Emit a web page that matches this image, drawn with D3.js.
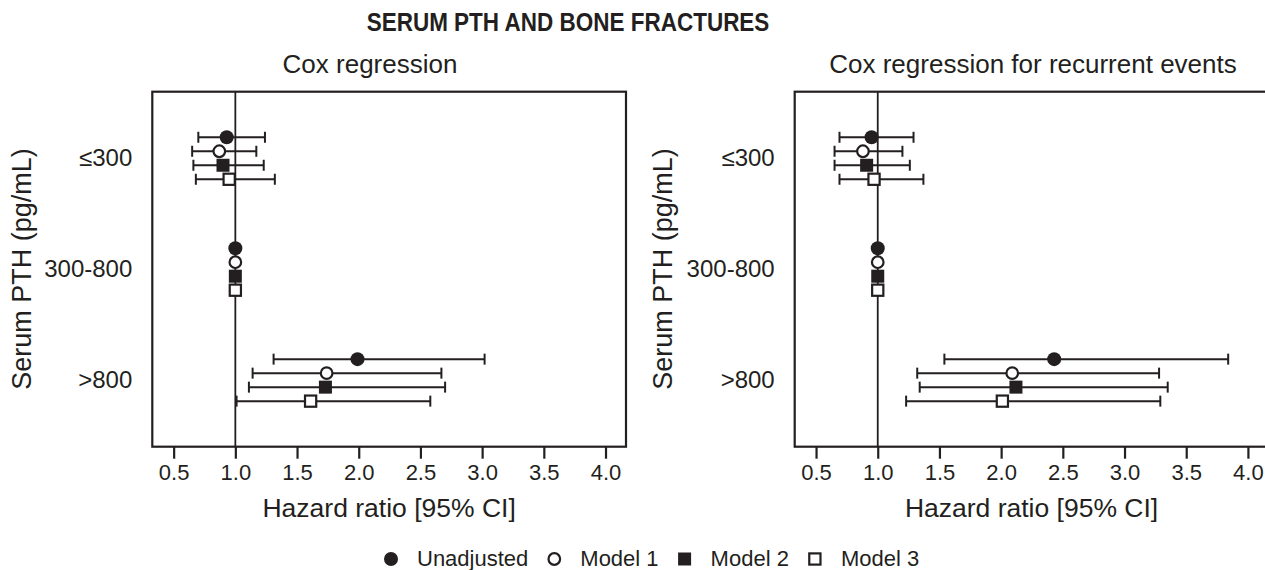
<!DOCTYPE html>
<html lang="en">
  <head>
    <meta charset="UTF-8" />
    <title>Serum PTH and bone fractures</title>
    <style>
      body { margin: 0; background: #fff; }
      svg text { font-family: "Liberation Sans", Arial, sans-serif; fill: #231f20; }
    </style>
  </head>
  <body>
    <script src="https://cdn.jsdelivr.net/npm/d3@7"></script>
    <script>

      var categories = ["≤300", "300-800", ">800"];
      var models = ["Unadjusted", "Model 1", "Model 2", "Model 3"];
      var xTicks = [0.5, 1.0, 1.5, 2.0, 2.5, 3.0, 3.5, 4.0];

      // hazard ratios, one row per model, one value per PTH category
      var coxHR   = [[0.93, 1.00, 1.99], [0.87, 1.00, 1.74], [0.90, 1.00, 1.73], [0.95, 1.00, 1.61]];
      var coxLow  = [[0.70, null, 1.31], [0.65, null, 1.14], [0.66, null, 1.11], [0.68, null, 1.01]];
      var coxHigh = [[1.24, null, 3.02], [1.17, null, 2.67], [1.23, null, 2.70], [1.32, null, 2.58]];

      var recHR   = [[0.95, 1.00, 2.43], [0.88, 1.00, 2.09], [0.91, 1.00, 2.12], [0.97, 1.00, 2.01]];
      var recLow  = [[0.69, null, 1.54], [0.65, null, 1.32], [0.65, null, 1.34], [0.69, null, 1.23]];
      var recHigh = [[1.29, null, 3.84], [1.20, null, 3.28], [1.26, null, 3.35], [1.37, null, 3.29]];

      var ink = "#231f20";
      var W = 1265, H = 570;

      var svg = d3.select("body").append("svg")
        .attr("width", W)
        .attr("height", H);

      // title is a bit taller than the plain font, stretch it
      svg.append("text")
         .attr("transform", "translate(568,31)scale(1,1.15)")
         .attr("text-anchor", "middle")
         .style("font-size", "22.5px")
         .style("font-weight", "bold")
         .text("SERUM PTH AND BONE FRACTURES");

      var plotTop = 91.7, plotBottom = 446.7, pw = 473.7;

      // marker drawing shared by the panels and the legend
      function marker(g, i, cx, cy) {
        if (i == 0) {
          g.append("circle").attr("cx", cx).attr("cy", cy).attr("r", 7).attr("fill", ink);
        } else if (i == 1) {
          g.append("circle").attr("cx", cx).attr("cy", cy).attr("r", 5.8)
           .attr("fill", "#fff").attr("stroke", ink).attr("stroke-width", 2.2);
        } else if (i == 2) {
          g.append("rect").attr("x", cx - 6.5).attr("y", cy - 6.5).attr("width", 13).attr("height", 13)
           .attr("fill", ink);
        } else {
          g.append("rect").attr("x", cx - 5.6).attr("y", cy - 5.6).attr("width", 11.2).attr("height", 11.2)
           .attr("fill", "#fff").attr("stroke", ink).attr("stroke-width", 2.2);
        }
      }

      function panel(left, title, titleX, hr, low, high, ylabX) {
        var g = svg.append("g");

        var xScale = d3.scaleLinear()
                       .domain([0.327, 4.166])
                       .range([left, left + pw]);

        var yScale = d3.scalePoint()
                       .domain(categories)
                       .range([plotTop, plotBottom])
                       .padding(0.6);

        var offset = d3.scalePoint()
                       .domain(models)
                       .range([-21, 21]);

        g.append("text")
         .attr("x", titleX)
         .attr("y", 73)
         .attr("text-anchor", "middle")
         .style("font-size", "26px")
         .text(title);

        // reference line at HR = 1
        g.append("line")
         .attr("x1", xScale(1)).attr("x2", xScale(1))
         .attr("y1", plotTop).attr("y2", plotBottom)
         .attr("stroke", ink)
         .attr("stroke-width", 1.8);

        // error bars and markers
        models.forEach(function(m, i) {
          categories.forEach(function(c, j) {
            var cy = yScale(c) + offset(m);
            if (low[i][j] != null) {
              g.append("line")
               .attr("x1", xScale(low[i][j])).attr("x2", xScale(high[i][j]))
               .attr("y1", cy).attr("y2", cy)
               .attr("stroke", ink).attr("stroke-width", 2);
              [low[i][j], high[i][j]].forEach(function(v) {
                g.append("line")
                 .attr("x1", xScale(v)).attr("x2", xScale(v))
                 .attr("y1", cy - 5.5).attr("y2", cy + 5.5)
                 .attr("stroke", ink).attr("stroke-width", 2);
              });
            }
            marker(g, i, xScale(hr[i][j]), cy);
          });
        });

        // frame
        g.append("rect")
         .attr("x", left).attr("y", plotTop)
         .attr("width", pw).attr("height", plotBottom - plotTop)
         .attr("fill", "none")
         .attr("stroke", ink)
         .attr("stroke-width", 2.2);

        //axes
        var xAxis = d3.axisBottom(xScale)
                      .tickValues(xTicks)
                      .tickFormat(d3.format(".1f"))
                      .tickSize(12)
                      .tickPadding(6);
        var xg = g.append("g")
                  .attr("transform", "translate(0," + plotBottom + ")")
                  .call(xAxis);
        xg.select(".domain").remove();
        xg.selectAll("line").attr("stroke", ink).attr("stroke-width", 2.2);
        xg.selectAll("text").style("font-size", "22px").attr("fill", ink);

        var yAxis = d3.axisLeft(yScale)
                      .tickSize(0)
                      .tickPadding(20);
        var yg = g.append("g")
                  .attr("transform", "translate(" + left + ",0)")
                  .call(yAxis);
        yg.select(".domain").remove();
        yg.selectAll("text").style("font-size", "24px").attr("fill", ink);

        g.append("text")
         .attr("text-anchor", "middle")
         .attr("x", left + pw / 2)
         .attr("y", 517)
         .style("font-size", "26.5px")
         .text("Hazard ratio [95% CI]");

        g.append("text")
         .attr("text-anchor", "middle")
         .attr("transform", "translate(" + ylabX + ",269)rotate(-90)")
         .style("font-size", "27px")
         .text("Serum PTH (pg/mL)");
      }

      panel(152.3, "Cox regression", 370, coxHR, coxLow, coxHigh, 31);
      panel(794.7, "Cox regression for recurrent events", 1033, recHR, recLow, recHigh, 672);

      // legend
      var leg = svg.append("g");
      var lx = 384;
      models.forEach(function(m, i) {
        marker(leg, i, lx + 7, 559);
        var t = leg.append("text")
                   .attr("x", lx + 33)
                   .attr("y", 566)
                   .style("font-size", "22px")
                   .text(m);
        lx = lx + 33 + t.node().getComputedTextLength() + 19;
      });

    </script>
  </body>
</html>
